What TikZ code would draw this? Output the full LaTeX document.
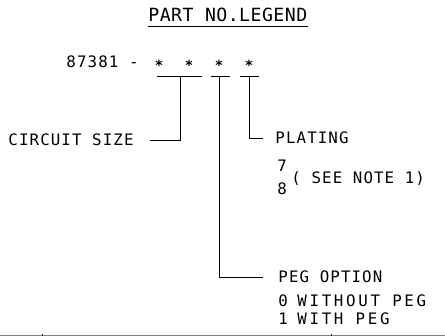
\documentclass[tikz,border=0pt]{standalone}
\usepackage{fontspec}
\newfontfamily\cadfont[LetterSpace=7]{DejaVu Sans Mono}
\newfontfamily\cadwide[LetterSpace=17]{DejaVu Sans Mono}
\newfontfamily\cadtitle[LetterSpace=2.5]{DejaVu Sans Mono}
\usetikzlibrary{positioning}

\begin{document}
\begin{tikzpicture}[
  x=1pt, y=-1pt,
  line width=0.8pt,
  txt/.style={inner sep=0pt, anchor=base west, text height=11.5pt, text depth=0pt, font=\cadfont\fontsize{15.8}{18}\selectfont},
  widetxt/.style={inner sep=0pt, anchor=base west, text height=11.5pt, text depth=0pt, font=\cadwide\fontsize{15.8}{18}\selectfont},
  ttl/.style={inner sep=0pt, anchor=base west, text height=13.3pt, text depth=0pt, font=\cadtitle\fontsize{18.2}{20}\selectfont},
  star/.style={inner sep=0pt, anchor=base, font=\cadfont\bfseries\fontsize{14}{14}\selectfont},
  lead/.style={draw, line width=0.8pt}
]
  \useasboundingbox (0,0) rectangle (445,336);

  % Title
  \node[ttl] (title) at (148,21.7) {PART NO.LEGEND};
  \draw ([yshift=-5pt]title.base west) -- ([yshift=-5pt]title.base east);

  % Part number with the four digit places
  \node[txt] (pn) at (66,68) {87381 -};
  \node[star] (s1) at (159,70.5) {*};
  \node[star] (s2) at (189,70.5) {*};
  \node[star] (s3) at (219,70.5) {*};
  \node[star] (s4) at (249,70.5) {*};

  % Brackets under the digit places
  \coordinate (b1) at (180,76.5);
  \coordinate (b2) at (219,76.5);
  \coordinate (b3) at (249,76.5);
  \draw (157,76.5) -- (202,76.5);
  \draw (211,76.5) -- (230,76.5);
  \draw (240,76.5) -- (259,76.5);

  % Labels
  \node[txt] (circuit) at (8,146) {CIRCUIT SIZE};
  \node[txt] (plating) at (275,144) {PLATING};
  \node[txt] (seven) at (277,172) {7};
  \node[txt] (eight) at (277,195) {8};
  \node[txt] (note) at (291,184) {( SEE NOTE 1)};
  \node[txt] (peg) at (278,283) {PEG OPTION};
  \node[txt] (code0) at (278,307) {0};
  \node[widetxt] (wo) at (297,307) {WITHOUT PEG};
  \node[txt] (code1) at (278,325) {1};
  \node[widetxt] (wi) at (297,325) {WITH PEG};

  % Leaders
  \draw[lead, shorten >=16pt] (b1) |- (circuit.east);
  \draw[lead, shorten >=12pt] (b3) |- (plating.west);
  \draw[lead, shorten >=15pt] (b2) |- (peg.west);

  % Border at the bottom edge
  \draw[gray, line width=1pt] (0,335.5) -- (445,335.5);
  \draw (42,334) -- (42,336);
  \draw (331,334) -- (331,336);
\end{tikzpicture}
\end{document}
